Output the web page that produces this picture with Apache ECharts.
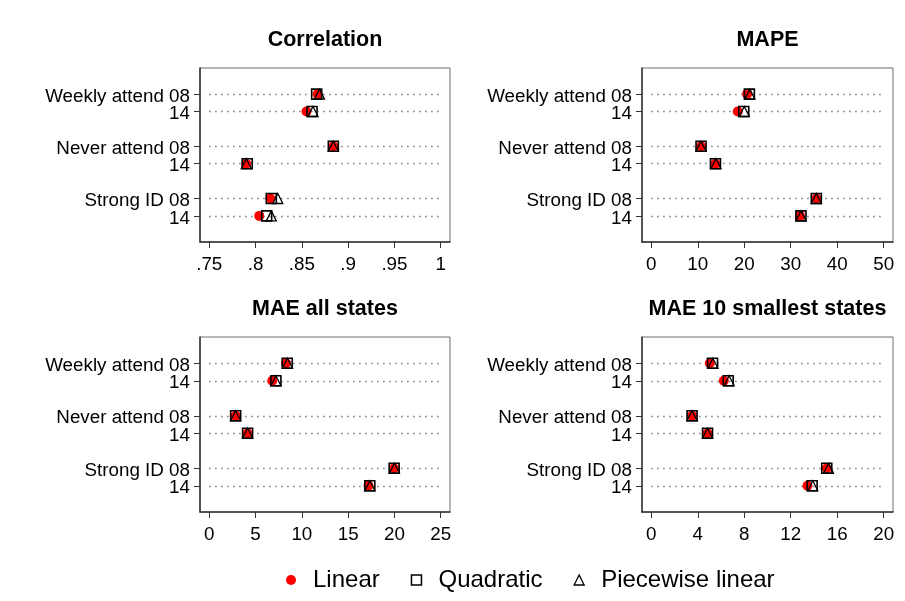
<!DOCTYPE html>
<html>
<head>
<meta charset="utf-8">
<script src="https://cdn.jsdelivr.net/npm/echarts@6/dist/echarts.min.js"></script>
<style>
  html, body { margin: 0; padding: 0; background: #fff; }
  #chart { width: 905px; height: 601px; }
</style>
</head>
<body>
<div id="chart"></div>
<script>
// Row labels shared by all four panels (two survey years per measure)
const rowLabels = ['Weekly attend 08', '14', 'Never attend 08', '14', 'Strong ID 08', '14'];
const seriesNames = ['Linear', 'Quadratic', 'Piecewise linear'];

// Correlation
const corrLinear    = [0.867, 0.855, 0.884, 0.790, 0.816, 0.804];
const corrQuadratic = [0.866, 0.861, 0.884, 0.791, 0.817, 0.812];
const corrPiecewise = [0.869, 0.862, 0.884, 0.790, 0.824, 0.817];
const corrTicks = [0.75, 0.8, 0.85, 0.9, 0.95, 1];
const corrTickLabels = ['.75', '.8', '.85', '.9', '.95', '1'];

// MAPE
const mapeLinear    = [20.6, 18.6, 10.7, 13.8, 35.5, 32.0];
const mapeQuadratic = [21.1, 19.9, 10.7, 13.8, 35.5, 32.2];
const mapePiecewise = [21.2, 20.0, 10.7, 13.9, 35.5, 32.2];
const mapeTicks = [0, 10, 20, 30, 40, 50];
const mapeTickLabels = ['0', '10', '20', '30', '40', '50'];

// MAE all states
const maeLinear    = [8.3, 6.8, 2.85, 4.14, 19.95, 17.2];
const maeQuadratic = [8.42, 7.2, 2.85, 4.14, 19.97, 17.34];
const maePiecewise = [8.45, 7.2, 2.85, 4.15, 20.0, 17.35];
const maeTicks = [0, 5, 10, 15, 20, 25];
const maeTickLabels = ['0', '5', '10', '15', '20', '25'];

// MAE 10 smallest states
const mae10Linear    = [5.03, 6.24, 3.51, 4.84, 15.1, 13.44];
const mae10Quadratic = [5.27, 6.62, 3.51, 4.84, 15.1, 13.84];
const mae10Piecewise = [5.3, 6.7, 3.51, 4.84, 15.25, 13.9];
const mae10Ticks = [0, 4, 8, 12, 16, 20];
const mae10TickLabels = ['0', '4', '8', '12', '16', '20'];

const FONT = '"Liberation Sans", Arial, sans-serif';

// Each pair of rows is one group; an empty slot separates groups
const slotOf = i => i + Math.floor(i / 2);
const slots = rowLabels.map((_, i) => slotOf(i));
// first and second row of every group go on two overlaid y axes,
// so that the close-set labels never compete for space on one axis
const firstRows = slots.filter((_, i) => i % 2 === 0);
const secondRows = slots.filter((_, i) => i % 2 === 1);

const panels = [
  { title: 'Correlation', grid: { left: 200, top: 68, width: 250, height: 174 },
    ticks: corrTicks, tickLabels: corrTickLabels, values: [corrLinear, corrQuadratic, corrPiecewise] },
  { title: 'MAPE', grid: { left: 642, top: 68, width: 251, height: 174 },
    ticks: mapeTicks, tickLabels: mapeTickLabels, values: [mapeLinear, mapeQuadratic, mapePiecewise] },
  { title: 'MAE all states', grid: { left: 200, top: 337, width: 250, height: 175 },
    ticks: maeTicks, tickLabels: maeTickLabels, values: [maeLinear, maeQuadratic, maePiecewise] },
  { title: 'MAE 10 smallest states', grid: { left: 642, top: 337, width: 251, height: 175 },
    ticks: mae10Ticks, tickLabels: mae10TickLabels, values: [mae10Linear, mae10Quadratic, mae10Piecewise] }
];

const markerStyles = [
  { symbol: 'circle', symbolSize: 10, itemStyle: { color: '#ff0000', borderWidth: 0, opacity: 1 } },
  { symbol: 'rect', symbolSize: 10, itemStyle: { color: 'rgba(0,0,0,0)', borderColor: '#000', borderWidth: 1.6, opacity: 1 } },
  { symbol: 'triangle', symbolSize: 10, itemStyle: { color: 'rgba(0,0,0,0)', borderColor: '#000', borderWidth: 1.3, opacity: 1 } }
];

const titles = [], grids = [], xAxes = [], yAxes = [], series = [];

function rowAxis(k, values, showLine) {
  return {
    gridIndex: k, type: 'value', min: -1.5, max: 8.5, inverse: true, position: 'left',
    axisLine: { show: showLine, onZero: false, lineStyle: { color: '#333', width: 1.5 } },
    axisTick: { show: true, inside: false, length: 6, customValues: values, lineStyle: { color: '#333', width: 1 } },
    axisLabel: { customValues: values,
      formatter: v => '{r|' + (rowLabels[slots.indexOf(v)] || '') + '}',
      rich: { r: { fontFamily: FONT, fontSize: 18.8, color: '#000', padding: [5, 0, 0, 0] } },
      showMinLabel: true, showMaxLabel: true, hideOverlap: false,
      margin: 10, fontFamily: FONT, fontSize: 18.8, color: '#000' },
    splitLine: { show: false }
  };
}

panels.forEach((p, k) => {
  const g = p.grid;
  titles.push({
    text: p.title, left: g.left + g.width / 2, top: g.top - 39,
    textAlign: 'center', textVerticalAlign: 'top', padding: 0,
    textStyle: { fontFamily: FONT, fontSize: 21.5, fontWeight: 'bold', color: '#000' }
  });
  grids.push({ left: g.left, top: g.top, width: g.width, height: g.height,
    show: true, borderColor: '#6e6e6e', borderWidth: 1, backgroundColor: '#fff' });

  const lo = p.ticks[0], hi = p.ticks[p.ticks.length - 1], span = hi - lo;
  const labelFor = v => {
    const idx = p.ticks.findIndex(t => Math.abs(t - v) < 1e-9);
    return idx >= 0 ? p.tickLabels[idx] : '';
  };
  xAxes.push({
    gridIndex: k, type: 'value', min: lo - 0.04 * span, max: hi + 0.04 * span,
    axisLine: { show: true, onZero: false, lineStyle: { color: '#333', width: 1.5 } },
    axisTick: { show: true, inside: false, length: 6, customValues: p.ticks, lineStyle: { color: '#333', width: 1 } },
    axisLabel: { customValues: p.ticks, formatter: labelFor, margin: 13,
      showMinLabel: true, showMaxLabel: true, hideOverlap: false,
      fontFamily: FONT, fontSize: 18.8, color: '#000' },
    splitLine: { show: false }
  });
  const yMain = yAxes.length;
  yAxes.push(rowAxis(k, firstRows, true));
  yAxes.push(rowAxis(k, secondRows, false));

  // dotted guide lines spanning the labelled range of the axis
  series.push({
    type: 'lines', coordinateSystem: 'cartesian2d', xAxisIndex: k, yAxisIndex: yMain,
    silent: true, z: 1,
    lineStyle: { color: '#666', width: 1.3, type: [1.3, 4.7], opacity: 1 },
    data: slots.map(s => ({ coords: [[lo, s], [hi, s]] }))
  });

  p.values.forEach((vals, j) => {
    series.push(Object.assign({
      name: seriesNames[j], type: 'scatter', xAxisIndex: k, yAxisIndex: yMain,
      z: 3 + j, silent: true,
      data: vals.map((v, i) => [v, slots[i]])
    }, JSON.parse(JSON.stringify(markerStyles[j]))));
  });
});

const chart = echarts.init(document.getElementById('chart'), null, { renderer: 'canvas' });
chart.setOption({
  animation: false,
  backgroundColor: '#fff',
  title: titles,
  grid: grids,
  xAxis: xAxes,
  yAxis: yAxes,
  legend: {
    left: 286, top: 568, padding: 0, itemGap: 31, itemWidth: 10, itemHeight: 10,
    selectedMode: false,
    textStyle: { fontFamily: FONT, fontSize: 24, color: '#000', padding: [0, 0, 0, 12] },
    data: [
      { name: 'Linear', icon: 'circle', itemStyle: { color: '#ff0000', borderWidth: 0, opacity: 1 } },
      { name: 'Quadratic', icon: 'rect', itemStyle: { color: 'rgba(0,0,0,0)', borderColor: '#000', borderWidth: 1.5 } },
      { name: 'Piecewise linear', icon: 'triangle', itemStyle: { color: 'rgba(0,0,0,0)', borderColor: '#000', borderWidth: 1.3 } }
    ]
  },
  series: series
});
</script>
</body>
</html>
